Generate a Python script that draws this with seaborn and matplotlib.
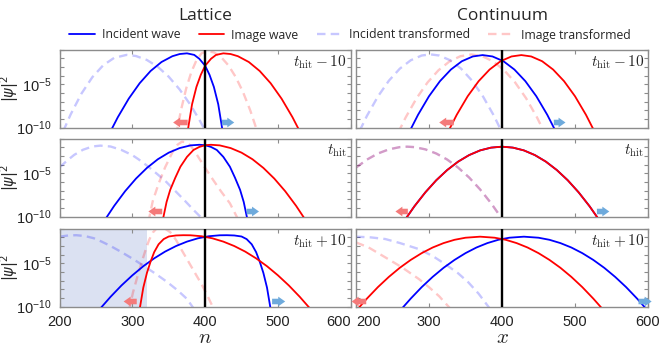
import numpy as np
import matplotlib
matplotlib.use("Agg")
import matplotlib.pyplot as plt
import seaborn as sns
from matplotlib.lines import Line2D

# ---------------- data: x positions and log10(|psi|^2) ----------------
# Lattice, t_hit - 10
lat1_inc_x = [270, 280, 295, 310, 325, 340, 355, 365, 375, 385, 392, 400, 406, 412, 418, 424]
lat1_inc_y = [-10.42, -8.79, -6.65, -4.87, -3.46, -2.42, -1.75, -1.50, -1.42, -1.60, -2.05, -2.85, -3.9, -5.3, -7.3, -10.4]
lat1_img_x = [376, 382, 388, 394, 400, 408, 415, 425, 435, 445, 460, 475, 490, 505, 520, 530]
lat1_img_y = [-10.4, -7.3, -5.3, -3.9, -2.85, -2.05, -1.60, -1.42, -1.50, -1.75, -2.42, -3.46, -4.87, -6.65, -8.79, -10.42]
lat1_inctr_x = [205, 215, 230, 245, 260, 275, 292, 305, 320, 335, 350, 365, 380, 392, 400]
lat1_inctr_y = [-10.4, -8.5, -6.07, -4.17, -2.79, -1.94, -1.6, -1.73, -2.19, -2.98, -4.12, -5.59, -7.39, -9.08, -10.32]
lat1_imgtr_x = [360, 367, 374, 381, 388, 395, 403, 412, 422, 432, 442, 452, 462, 472]
lat1_imgtr_y = [-10.85, -7.9, -5.46, -3.58, -2.23, -1.42, -1.15, -1.31, -1.86, -2.81, -4.15, -5.88, -8.01, -10.53]

# Continuum, t_hit - 10
con1_inc_x = [275, 285, 300, 315, 330, 345, 360, 373.5, 387, 402, 417, 432, 447, 462, 472]
con1_inc_y = [-10.16, -8.51, -6.37, -4.63, -3.29, -2.33, -1.78, -1.62, -1.78, -2.33, -3.29, -4.63, -6.37, -8.51, -10.16]
con1_img_x = [328, 338, 353, 368, 383, 398, 413, 426.5, 440, 455, 470, 485, 500, 515, 525]
con1_img_y = [-10.16, -8.51, -6.37, -4.63, -3.29, -2.33, -1.78, -1.62, -1.78, -2.33, -3.29, -4.63, -6.37, -8.51, -10.16]
con1_inctr_x = [205, 215, 230, 245, 260, 275, 290, 302, 314, 329, 344, 359, 374, 389, 399]
con1_inctr_y = [-10.36, -8.63, -6.4, -4.58, -3.19, -2.22, -1.67, -1.54, -1.67, -2.22, -3.19, -4.58, -6.4, -8.63, -10.36]
con1_imgtr_x = [258, 268, 283, 298, 313, 328, 343, 358, 373, 388, 403, 418, 433, 448, 458]
con1_imgtr_y = [-10.54, -8.82, -6.6, -4.78, -3.37, -2.36, -1.75, -1.55, -1.75, -2.36, -3.37, -4.78, -6.6, -8.82, -10.54]

# Lattice, t_hit
lat2_inc_x = [263, 275, 290, 305, 320, 335, 350, 365, 380, 392, 400, 408, 416, 425, 434, 441, 448, 453, 458]
lat2_inc_y = [-10.27, -8.75, -7.06, -5.6, -4.37, -3.37, -2.61, -2.08, -1.77, -1.7, -1.75, -1.95, -2.3, -3.1, -4.23, -5.5, -6.9, -8.3, -10.3]
lat2_img_x = [342, 347, 352, 359, 366, 375, 384, 392, 400, 408, 420, 435, 450, 465, 480, 495, 510, 525, 537]
lat2_img_y = [-10.3, -8.3, -6.9, -5.5, -4.23, -3.1, -2.3, -1.95, -1.75, -1.7, -1.77, -2.08, -2.61, -3.37, -4.37, -5.6, -7.06, -8.75, -10.27]
lat2_inctr_x = [200, 210, 220, 232, 245, 256, 270, 285, 300, 308, 320, 333, 345, 358, 372, 385, 398]
lat2_inctr_y = [-4.3, -3.55, -2.87, -2.28, -1.9, -1.8, -1.9, -2.3, -2.9, -3.35, -4.1, -5.0, -5.85, -6.95, -8.15, -9.3, -10.4]
lat2_imgtr_x = [322, 328, 336, 345, 356, 362, 368, 374, 380, 386, 392, 401, 411, 422, 434, 444]
lat2_imgtr_y = [-10.6, -8.2, -6.2, -4.3, -2.4, -1.7, -1.35, -1.4, -1.8, -2.5, -3.3, -4.5, -5.76, -7.1, -8.45, -10.1]

# Continuum, t_hit
con2_inc_x = [268, 280, 295, 310, 325, 340, 355, 370, 385, 400, 415, 430, 445, 460, 475, 490, 505, 520, 532]
con2_inc_y = [-10.25, -8.8, -7.19, -5.79, -4.61, -3.64, -2.89, -2.35, -2.03, -1.92, -2.03, -2.35, -2.89, -3.64, -4.61, -5.79, -7.19, -8.8, -10.25]
con2_img_x = [268, 280, 295, 310, 325, 340, 355, 370, 385, 400, 415, 430, 445, 460, 475, 490, 505, 520, 532]
con2_img_y = [-10.25, -8.8, -7.19, -5.79, -4.61, -3.64, -2.89, -2.35, -2.03, -1.92, -2.03, -2.35, -2.89, -3.64, -4.61, -5.79, -7.19, -8.8, -10.25]
con2_inctr_x = [200, 215, 230, 245, 260, 270, 280, 295, 310, 325, 340, 355, 370, 385, 399]
con2_inctr_y = [-4.34, -3.41, -2.71, -2.23, -1.97, -1.92, -1.97, -2.23, -2.71, -3.41, -4.34, -5.48, -6.85, -8.44, -10.12]
con2_imgtr_x = [200, 215, 230, 245, 260, 270, 280, 295, 310, 325, 340, 355, 370, 385, 399]
con2_imgtr_y = [-4.34, -3.41, -2.71, -2.23, -1.97, -1.92, -1.97, -2.23, -2.71, -3.41, -4.34, -5.48, -6.85, -8.44, -10.12]

# Lattice, t_hit + 10
lat3_inc_x = [256, 270, 285, 300, 315, 330, 345, 360, 375, 390, 405, 420, 430, 440, 450, 457, 464, 470, 475, 480, 485, 490]
lat3_inc_y = [-10.2, -8.86, -7.55, -6.38, -5.33, -4.42, -3.64, -3.0, -2.49, -2.11, -1.87, -1.76, -1.75, -1.78, -1.9, -2.2, -2.8, -3.7, -4.8, -6.1, -7.8, -10.3]
lat3_img_x = [310, 315, 320, 325, 330, 336, 343, 350, 360, 370, 380, 395, 410, 425, 440, 455, 470, 485, 500, 515, 530, 544]
lat3_img_y = [-10.3, -7.8, -6.1, -4.8, -3.7, -2.8, -2.2, -1.9, -1.78, -1.75, -1.76, -1.87, -2.11, -2.49, -3.0, -3.64, -4.42, -5.33, -6.38, -7.55, -8.86, -10.2]
lat3_inctr_x = [200, 212, 223, 235, 247, 258, 269, 284, 299, 315, 331, 347, 362, 375, 385]
lat3_inctr_y = [-1.92, -1.78, -1.75, -1.85, -2.1, -2.5, -2.95, -3.65, -4.4, -5.25, -6.15, -7.1, -8.1, -9.1, -10.3]
lat3_imgtr_x = [295, 301, 308, 313, 318, 323, 328, 333, 338, 344, 352, 360, 368, 377, 386, 395, 403, 412]
lat3_imgtr_y = [-10.5, -8.3, -6.2, -4.8, -3.5, -2.3, -1.45, -1.0, -0.85, -0.95, -1.4, -2.3, -3.5, -4.8, -6.1, -7.4, -8.7, -10.3]

# Continuum, t_hit + 10
con3_inc_x = [263, 275, 290, 305, 320, 335, 350, 365, 380, 395, 410, 430, 450, 465, 480, 495, 510, 525, 540, 555, 570, 585, 597]
con3_inc_y = [-10.2, -9.06, -7.74, -6.56, -5.51, -4.6, -3.82, -3.17, -2.66, -2.28, -2.04, -1.92, -2.04, -2.28, -2.66, -3.17, -3.82, -4.6, -5.51, -6.56, -7.74, -9.06, -10.2]
con3_img_x = [203, 215, 230, 245, 260, 275, 290, 305, 320, 335, 350, 370, 390, 405, 420, 435, 450, 465, 480, 495, 510, 525, 537]
con3_img_y = [-10.2, -9.06, -7.74, -6.56, -5.51, -4.6, -3.82, -3.17, -2.66, -2.28, -2.04, -1.92, -2.04, -2.28, -2.66, -3.17, -3.82, -4.6, -5.51, -6.56, -7.74, -9.06, -10.2]
con3_inctr_x = [200, 220, 240, 260, 286, 305, 322, 340, 354, 368, 384]
con3_inctr_y = [-1.92, -2.0, -2.19, -2.65, -3.35, -4.15, -5.08, -6.15, -7.2, -8.5, -10.3]
con3_imgtr_x = [200, 217, 240, 263, 286, 300, 314, 330]
con3_imgtr_y = [-2.58, -3.15, -4.3, -5.46, -6.8, -7.75, -8.8, -10.3]

# arrows (order: L1, C1, L2, C2, L3, C3)
red_arrow_head = [356, 314, 322, 254, 288, 194]
red_arrow_tail = [376, 334, 341, 271, 306, 214]
blue_arrow_tail = [423, 471, 457, 530, 492, 587]
blue_arrow_head = [440, 487, 474, 547, 510, 605]

row_labels = [r"$t_{\mathrm{hit}}-10$", r"$t_{\mathrm{hit}}$", r"$t_{\mathrm{hit}}+10$"]
col_titles = ["Lattice", "Continuum"]
legend_labels = ["Incident wave", "Image wave", "Incident transformed", "Image transformed"]
x_ticks = [200, 300, 400, 500, 600]
shade_span = [200, 320]

# ---------------- style ----------------
sns.set_theme(style="ticks")
plt.rcParams["font.family"] = ["Liberation Sans", "DejaVu Sans"]

BLUE = "#0000ff"
RED = "#ff0000"
DASH_ALPHA = 0.22
SPINE = "#8c8c8c"
DASH = (0, (3.6, 2.2))
ARROW = "simple,head_length=0.5,head_width=0.7,tail_width=0.4"

panels = [
    (lat1_inc_x, lat1_inc_y, lat1_img_x, lat1_img_y, lat1_inctr_x, lat1_inctr_y, lat1_imgtr_x, lat1_imgtr_y),
    (con1_inc_x, con1_inc_y, con1_img_x, con1_img_y, con1_inctr_x, con1_inctr_y, con1_imgtr_x, con1_imgtr_y),
    (lat2_inc_x, lat2_inc_y, lat2_img_x, lat2_img_y, lat2_inctr_x, lat2_inctr_y, lat2_imgtr_x, lat2_imgtr_y),
    (con2_inc_x, con2_inc_y, con2_img_x, con2_img_y, con2_inctr_x, con2_inctr_y, con2_imgtr_x, con2_imgtr_y),
    (lat3_inc_x, lat3_inc_y, lat3_img_x, lat3_img_y, lat3_inctr_x, lat3_inctr_y, lat3_imgtr_x, lat3_imgtr_y),
    (con3_inc_x, con3_inc_y, con3_img_x, con3_img_y, con3_inctr_x, con3_inctr_y, con3_imgtr_x, con3_imgtr_y),
]

fig = plt.figure(figsize=(6.72, 3.51), dpi=100)
W, H = 672.0, 351.0
col_left = [59.6, 356.0]
col_w = [291.1, 292.0]
row_top = [49.7, 138.7, 228.7]
row_h = 78.0

dec_ticks = [10.0 ** k for k in range(-10, 0)]
dec_labels = [r"$\mathregular{10^{-10}}$" if k == -10 else (r"$\mathregular{10^{-5}}$" if k == -5 else "")
              for k in range(-10, 0)]

for i, data in enumerate(panels):
    r, c = divmod(i, 2)
    ax = fig.add_axes([col_left[c] / W, 1 - (row_top[r] + row_h) / H, col_w[c] / W, row_h / H])
    ax.set_yscale("log")
    ax.set_xlim(200, 600)
    ax.set_ylim(1e-10, 1e-1)
    if r == 2 and c == 0:
        ax.axvspan(shade_span[0], shade_span[1], color="#dbe1f2", lw=0, zorder=0)
    inc_x, inc_y, img_x, img_y, itr_x, itr_y, mtr_x, mtr_y = data
    sns.lineplot(x=itr_x, y=10.0 ** np.array(itr_y), ax=ax, color=BLUE, alpha=DASH_ALPHA,
                 lw=1.7, linestyle=DASH, estimator=None, sort=False, zorder=2)
    sns.lineplot(x=mtr_x, y=10.0 ** np.array(mtr_y), ax=ax, color=RED, alpha=DASH_ALPHA,
                 lw=1.7, linestyle=DASH, estimator=None, sort=False, zorder=2)
    sns.lineplot(x=inc_x, y=10.0 ** np.array(inc_y), ax=ax, color=BLUE, lw=1.3,
                 estimator=None, sort=False, zorder=3)
    sns.lineplot(x=img_x, y=10.0 ** np.array(img_y), ax=ax, color=RED, lw=1.3,
                 estimator=None, sort=False, zorder=3)
    ax.axvline(400, color="black", lw=1.7, zorder=4)

    yv = 10.0 ** -9.4
    ax.annotate("", xy=(red_arrow_head[i], yv), xytext=(red_arrow_tail[i], yv),
                arrowprops=dict(arrowstyle=ARROW, color="#f47a7a", lw=0, shrinkA=0, shrinkB=0,
                                mutation_scale=10),
                annotation_clip=False, zorder=5)
    ax.annotate("", xy=(blue_arrow_head[i], yv), xytext=(blue_arrow_tail[i], yv),
                arrowprops=dict(arrowstyle=ARROW, color="#6eaadc", lw=0, shrinkA=0, shrinkB=0,
                                mutation_scale=10),
                annotation_clip=False, zorder=5)

    ax.set_xticks(x_ticks)
    ax.set_yticks(dec_ticks)
    ax.yaxis.set_minor_locator(matplotlib.ticker.NullLocator())
    ax.xaxis.set_minor_locator(matplotlib.ticker.NullLocator())
    if c == 0:
        ax.set_yticklabels(dec_labels)
        ax.set_ylabel(r"$|\psi|^2$", fontsize=10.5, math_fontfamily="dejavusans")
        ax.yaxis.set_label_coords(-0.132, 0.5)
    else:
        ax.set_yticklabels([])
        ax.set_ylabel("")
    if r == 2:
        labs = ax.set_xticklabels([str(t) for t in x_ticks])
        if c == 0:
            labs[-1].set_horizontalalignment("right")
        else:
            labs[0].set_horizontalalignment("left")
        ax.set_xlabel(r"$n$" if c == 0 else r"$x$", fontsize=15, math_fontfamily="cm", labelpad=-1)
    else:
        ax.set_xticklabels([])
        ax.set_xlabel("")
    ax.tick_params(axis="both", which="both", direction="in", length=3, width=0.8, color=SPINE,
                   top=True, right=True, labelsize=10.5, pad=6, labelcolor="#222222")
    for s in ax.spines.values():
        s.set_color(SPINE)
        s.set_linewidth(1.0)
    ax.text(0.987, 0.84, row_labels[r], transform=ax.transAxes, ha="right", va="center",
            fontsize=11, math_fontfamily="cm", zorder=6)

for c in range(2):
    fig.text((col_left[c] + col_w[c] / 2) / W, 1 - 16 / H, col_titles[c], ha="center", va="center",
             fontsize=12.5, family="Open Sans")

handles = [
    Line2D([], [], color=BLUE, lw=1.3),
    Line2D([], [], color=RED, lw=1.3),
    Line2D([], [], color=BLUE, alpha=DASH_ALPHA, lw=1.7, linestyle=DASH),
    Line2D([], [], color=RED, alpha=DASH_ALPHA, lw=1.7, linestyle=DASH),
]
fig.legend(handles, legend_labels, loc="center", bbox_to_anchor=(350 / W, 1 - 35 / H), ncol=4,
           frameon=False, prop={"family": "Open Sans", "size": 8.8}, handlelength=2.1,
           handletextpad=0.55, columnspacing=1.5, borderaxespad=0)

fig.savefig("out.png", dpi=100)
